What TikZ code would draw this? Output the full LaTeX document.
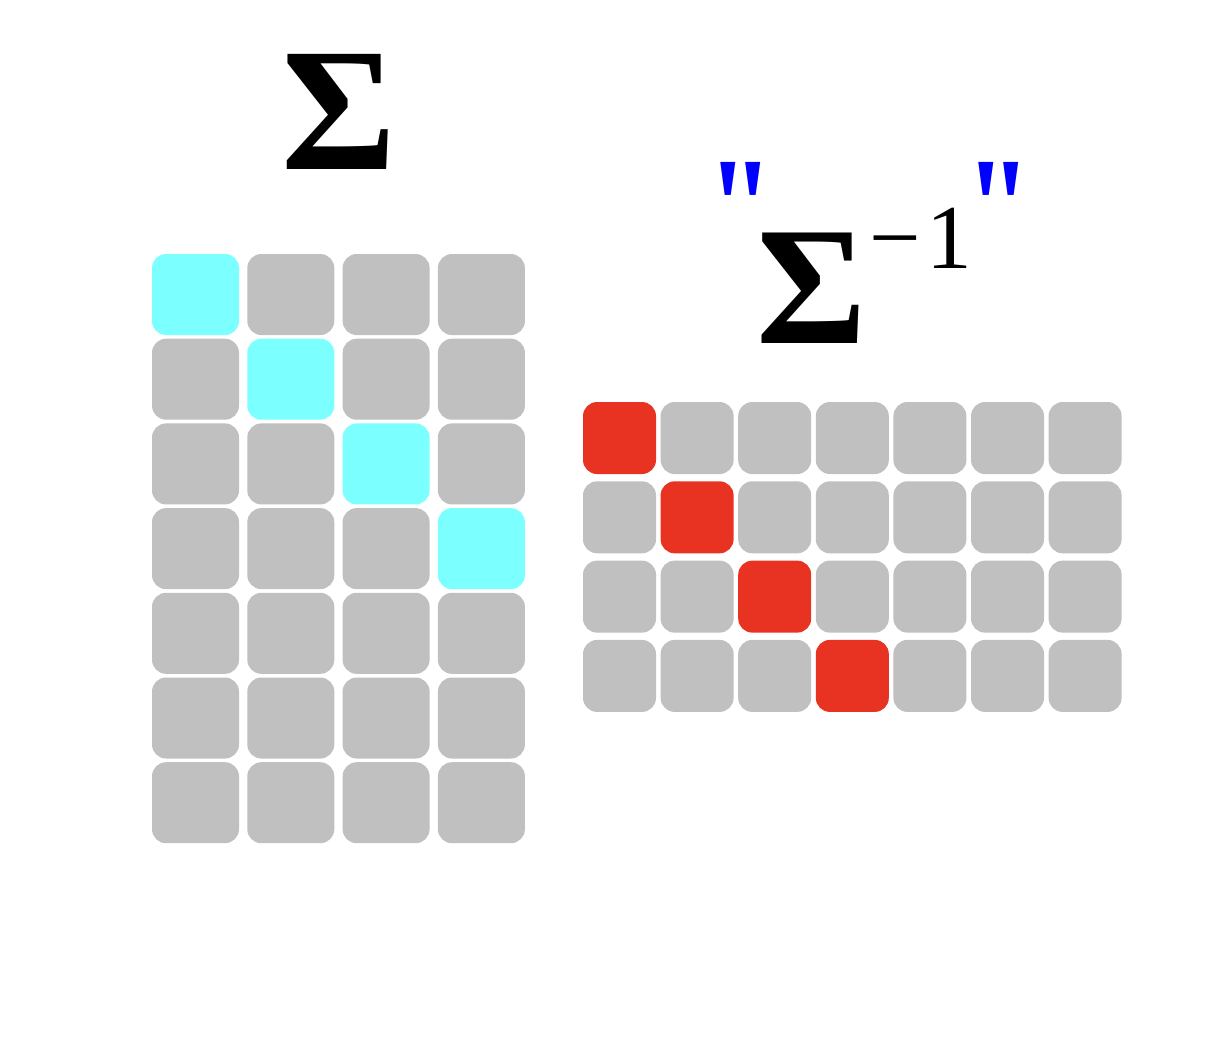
\documentclass[tikz,border=0pt]{standalone}
\usepackage{fontspec}
\setmainfont{Liberation Serif}
\newfontfamily\qfont[Ligatures=ResetAll]{Liberation Serif}
\definecolor{cellgray}{HTML}{C0C0C0}
\definecolor{cellcyan}{HTML}{7BFFFF}
\definecolor{cellred}{HTML}{E83323}
\definecolor{quoteblue}{HTML}{0000FF}
\newcommand{\dquote}{\raisebox{-0.39em}[0.31em][0pt]{"}}
\begin{document}
\begin{tikzpicture}[x=0.01cm,y=-0.01cm,
  qmark/.style={text=quoteblue,inner sep=0pt,font=\qfont\bfseries\fontsize{40}{40}\selectfont,xscale=0.85},
  sig/.style={inner sep=0pt}]
\useasboundingbox[fill=white] (0,0) rectangle (1218,1050);
% left matrix 4 x 7
\foreach \r in {0,...,6}{
  \foreach \c in {0,...,3}{
    \pgfmathsetmacro{\xa}{152+95.3*\c}
    \pgfmathsetmacro{\ya}{254+84.7*\r}
    \ifnum\r=\c
      \path[fill=cellcyan,rounded corners=4pt] (\xa,\ya) rectangle ++(87,81);
    \else
      \path[fill=cellgray,rounded corners=4pt] (\xa,\ya) rectangle ++(87,81);
    \fi
  }
}
% right matrix 7 x 4
\foreach \r in {0,...,3}{
  \foreach \c in {0,...,6}{
    \pgfmathsetmacro{\xa}{583+77.6*\c}
    \pgfmathsetmacro{\ya}{402+79.3*\r}
    \ifnum\r=\c
      \path[fill=cellred,rounded corners=4pt] (\xa,\ya) rectangle ++(73,72);
    \else
      \path[fill=cellgray,rounded corners=4pt] (\xa,\ya) rectangle ++(73,72);
    \fi
  }
}
\node[sig,font=\bfseries\fontsize{50}{50}\selectfont] (sigL) at (339,112) {Σ};
\node[sig,font=\bfseries\fontsize{48}{48}\selectfont] (sigR) at (812,288) {Σ};
\node[sig,anchor=base west,font=\fontsize{26}{26}\selectfont] (inv) at (869,268) {−\kern1.5pt1};
\node[qmark,anchor=north] (q1) at (741,155) {\dquote};
\node[qmark,anchor=north] (q2) at (999,155) {\dquote};
\end{tikzpicture}
\end{document}
